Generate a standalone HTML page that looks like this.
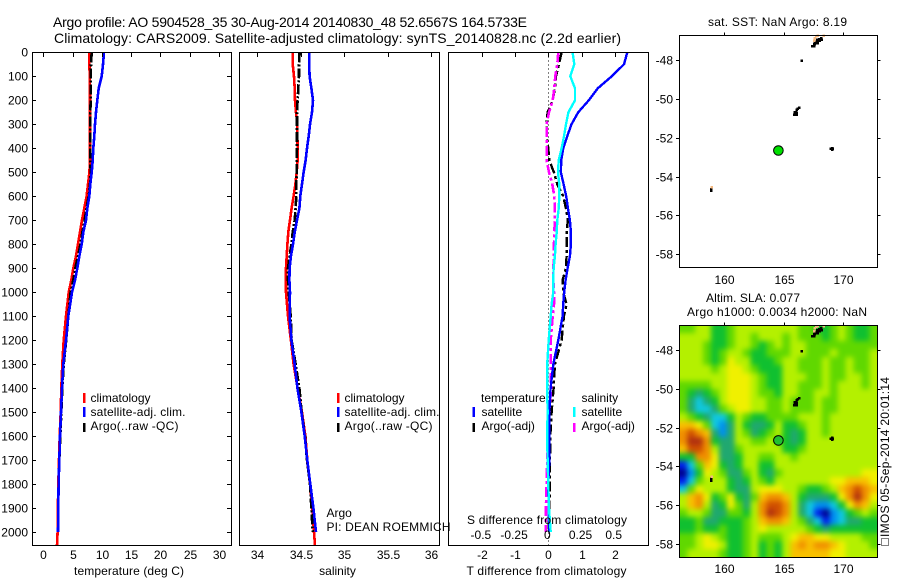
<!DOCTYPE html>
<html>
<head>
<meta charset="utf-8">
<title>Argo profile</title>
<style>
html,body{margin:0;padding:0;background:#fff;}
svg{display:block;}
text{font-family:"Liberation Sans",sans-serif;font-size:12px;fill:#000;}
.big{font-size:14px;}
</style>
</head>
<body>
<svg id="fig" width="900" height="580" viewBox="0 0 900 580" xmlns="http://www.w3.org/2000/svg">
  <defs>
    <clipPath id="clipHeat"><rect x="679.5" y="325.5" width="198" height="232"/></clipPath>
    <clipPath id="clipP1"><rect x="32.5" y="52.5" width="199" height="493"/></clipPath>
    <clipPath id="clipP2"><rect x="239.5" y="52.5" width="200" height="493"/></clipPath>
    <clipPath id="clipP3"><rect x="448.5" y="52.5" width="200" height="493"/></clipPath>
  </defs>
  <rect width="900" height="580" fill="#fff"/>

  <text class="big" x="53" y="27" textLength="474" lengthAdjust="spacing">Argo profile: AO 5904528_35 30-Aug-2014 20140830_48 52.6567S 164.5733E</text>
  <text class="big" x="54" y="43" textLength="567" lengthAdjust="spacing">Climatology: CARS2009. Satellite-adjusted climatology: synTS_20140828.nc (2.2d earlier)</text>

  <g id="p1"></g>
  <g id="p2"></g>
  <g id="p3"></g>
  <g id="m1"></g>
  <g id="m2"></g>

  <text x="129" y="575" text-anchor="middle" textLength="110">temperature (deg C)</text>
  <text x="337.5" y="575" text-anchor="middle">salinity</text>
  <text x="546.5" y="575" text-anchor="middle" textLength="160">T difference from climatology</text>
  <text x="547" y="524" text-anchor="middle" textLength="160">S difference from climatology</text>

  <g>
    <rect x="83" y="393" width="2.5" height="10" fill="#f00"/>
    <text x="90.5" y="402">climatology</text>
    <rect x="83" y="407" width="2.5" height="10" fill="#00f"/>
    <text x="90.5" y="416" textLength="95">satellite-adj. clim.</text>
    <rect x="83" y="423" width="2.5" height="9" fill="#000"/>
    <text x="90.5" y="430" textLength="88">Argo(..raw -QC)</text>
  </g>
  <g>
    <rect x="337" y="393" width="2.5" height="10" fill="#f00"/>
    <text x="344.5" y="402">climatology</text>
    <rect x="337" y="407" width="2.5" height="10" fill="#00f"/>
    <text x="344.5" y="416" textLength="95">satellite-adj. clim.</text>
    <rect x="337" y="423" width="2.5" height="9" fill="#000"/>
    <text x="344.5" y="430" textLength="88">Argo(..raw -QC)</text>
  </g>
  <g>
    <text x="481" y="402">temperature</text>
    <rect x="472.5" y="407" width="2.5" height="10" fill="#00f"/>
    <text x="481.5" y="416">satellite</text>
    <rect x="472.5" y="423" width="2.5" height="9" fill="#000"/>
    <text x="481.5" y="430">Argo(-adj)</text>
    <text x="581.5" y="402">salinity</text>
    <rect x="573" y="407" width="2.5" height="10" fill="#0ff"/>
    <text x="581.5" y="416">satellite</text>
    <rect x="573" y="423" width="2.5" height="9" fill="#f0f"/>
    <text x="581.5" y="430">Argo(-adj)</text>
  </g>

  <text x="326.5" y="517">Argo</text>
  <text x="326.5" y="531" textLength="124">PI: DEAN ROEMMICH</text>

  <text x="708" y="26" textLength="139">sat. SST: NaN Argo: 8.19</text>
  <text x="706" y="302" textLength="94">Altim. SLA: 0.077</text>
  <text x="687" y="316" textLength="180">Argo h1000: 0.0034 h2000: NaN</text>

  <rect x="881.5" y="538.5" width="7" height="7" fill="none" stroke="#000" stroke-width="1" stroke-dasharray="1 1"/>
  <text transform="translate(889,537) rotate(-90)" x="0" y="0" textLength="160">IMOS 05-Sep-2014 20:01:14</text>
</svg>
<script>
var profileDepths = [0,50,100,150,200,250,300,350,400,450,500,550,600,650,700,750,800,850,900,950,1000,1100,1200,1300,1400,1500,1600,1700,1800,1900,2000,2056];
var tempClim = [7.87,7.87,7.92,7.97,7.97,7.97,7.97,7.97,7.97,7.97,7.87,7.63,7.4,7.0,6.6,6.27,5.93,5.58,5.13,4.78,4.33,3.88,3.48,3.25,3.08,2.97,2.8,2.68,2.57,2.5,2.45,2.34];
var tempSat = [10.37,10.2,9.97,9.46,9.23,9.0,8.83,8.71,8.54,8.43,8.26,8.03,7.86,7.52,7.29,6.83,6.55,6.15,5.81,5.41,4.9,4.27,3.88,3.42,3.19,3.02,2.85,2.73,2.62,2.56,2.51];
var tempArgo = [8.26,8.14,8.09,8.09,8.09,8.03,8.03,8.03,8.03,8.03,8.09,7.97,7.75,7.4,7.06,6.67,6.33,5.93,5.47,5.13,4.67,4.27,3.91,3.48,3.25,3.08,2.91,2.73,2.62,2.56,2.51];
var salClim = [34.41,34.41,34.425,34.433,34.437,34.448,34.464,34.464,34.467,34.467,34.456,34.441,34.421,34.398,34.379,34.36,34.349,34.341,34.333,34.333,34.333,34.356,34.39,34.421,34.467,34.517,34.556,34.578,34.609,34.636,34.655,34.667];
var salSat = [34.60,34.60,34.605,34.625,34.644,34.632,34.609,34.594,34.575,34.559,34.536,34.517,34.498,34.487,34.46,34.433,34.414,34.39,34.375,34.372,34.379,34.375,34.395,34.433,34.464,34.51,34.548,34.578,34.613,34.648,34.678];
var salArgo = [34.49,34.483,34.483,34.475,34.467,34.46,34.46,34.46,34.46,34.456,34.456,34.452,34.452,34.444,34.433,34.41,34.395,34.375,34.356,34.356,34.364,34.387,34.398,34.444,34.487,34.513,34.552,34.575,34.609,34.625,34.64];

var diffDepths = [0,50,100,150,200,250,300,350,400,450,500,550,600,650,700,750,800,850,900,950,1000,1050,1100,1200,1300,1400,1500,1600,1700,1800,1900,2000];
var diffTSat = [2.38,2.28,1.91,1.49,1.22,0.90,0.70,0.57,0.45,0.39,0.38,0.46,0.54,0.59,0.65,0.68,0.68,0.65,0.58,0.52,0.48,0.45,0.43,0.30,0.15,0.07,0.03,0.03,0.03,0,0.01,0.03];
var diffTArgo = [0.40,0.32,0.23,0.20,0.13,-0.02,-0.05,-0.05,0,0.03,0.17,0.27,0.45,0.53,0.59,0.55,0.55,0.55,0.53,0.43,0.45,0.55,0.47,0.40,0.20,0.16,0.10,0.06,0.05,0.05,0.03,0.01];
var diffSSat = [0.183,0.196,0.166,0.201,0.201,0.151,0.133,0.118,0.100,0.078,0.073,0.083,0.083,0.078,0.068,0.063,0.055,0.05,0.04,0.038,0.038,0.025,0.018,0.003,-0.008,-0.008,-0.005,-0.008,-0.005,0,0.005,0.018];
var diffSArgo = [0.075,0.068,0.053,0.045,0.033,0.005,-0.013,-0.013,-0.013,-0.013,0.005,0.03,0.045,0.05,0.05,0.045,0.043,0.043,0.038,0.038,0.043,0.043,0.033,0.018,0.018,0.02,0.008,0,-0.008,-0.013,-0.018,-0.018];

var depthTicks = [0,100,200,300,400,500,600,700,800,900,1000,1100,1200,1300,1400,1500,1600,1700,1800,1900,2000];
var tempTicks = [0,5,10,15,20,25,30];
var salTicks = [34,34.5,35,35.5,36];
var tDiffTicks = [-2,-1,0,1,2];
var sDiffTicks = [-0.5,-0.25,0,0.25,0.5];
var lonTicks = [160,165,170];
var latTicks = [-48,-50,-52,-54,-56,-58];

var floatLon = 164.5733;
var floatLat = -52.6567;
var islandLon = [167.66,167.83,167.91,168.08,167.91,168.0,166.0,166.1,165.97,167.41,167.58,167.75,167.91,168.08,168.0,168.17,167.83,167.66,168.25,167.58,165.97,166.06,166.14,166.22,166.06,165.89,166.14,166.31,169.01,169.18,169.10,169.10,158.88,158.88,166.56,167.66,167.75,167.58,167.91,168.42,158.96];
var islandLat = [-47.18,-47.07,-47.02,-46.92,-47.13,-47.02,-50.73,-50.83,-50.68,-47.28,-47.18,-47.13,-47.07,-47.02,-46.92,-46.87,-46.97,-47.07,-46.97,-47.28,-50.78,-50.68,-50.57,-50.52,-50.83,-50.83,-50.73,-50.47,-52.58,-52.58,-52.53,-52.63,-54.64,-54.74,-48.05,-46.87,-46.79,-47.02,-46.76,-46.76,-54.54];
var islandTan = [0,0,0,0,0,0,0,0,0,0,0,0,0,0,0,0,0,0,0,0,0,0,0,0,0,0,0,0,0,0,0,0,0,0,0,1,1,1,1,1,1];

var heatLevelColors = ["#00008c","#0020f0","#0090f0","#10c8e0","#20a870","#10c030","#60d800","#b4f000","#f0f000","#f8c000","#f09000","#d05000","#b03010"];
var heatRows = [
[6,6,7,7,5,5,6,7,7,7,7,7,7,7,7,6,6,5,5,6,7,6,5,5,6],
[7,7,7,7,5,5,6,7,7,6,7,7,7,6,7,6,6,6,5,6,7,6,5,5,6],
[7,7,7,6,5,5,6,7,7,6,5,6,7,6,7,7,6,6,6,6,6,6,6,6,6],
[7,7,7,6,5,6,7,7,6,5,5,6,6,6,7,7,6,6,6,7,6,6,6,6,7],
[7,7,7,6,5,6,8,7,7,5,5,5,6,7,7,6,6,6,7,6,6,7,6,6,7],
[7,7,7,7,6,7,8,8,7,6,5,5,5,7,7,6,6,6,7,6,6,7,6,6,7],
[7,7,7,7,7,7,8,8,8,7,6,5,5,7,7,7,6,6,7,6,6,7,7,6,7],
[6,6,6,6,7,7,8,8,8,7,6,5,5,7,7,6,6,6,7,6,7,7,7,6,7],
[6,5,4,5,6,7,8,8,8,7,6,6,5,7,7,6,6,7,7,6,7,7,7,7,7],
[6,4,3,4,5,7,8,8,8,7,7,6,6,7,6,6,6,7,6,6,7,7,7,7,7],
[6,4,3,3,4,6,7,8,8,7,7,6,6,7,6,6,6,7,6,6,7,7,7,7,7],
[7,6,5,4,3,3,5,7,6,5,5,6,6,6,6,7,7,7,6,7,7,7,7,7,7],
[9,9,8,6,3,2,4,7,5,4,4,5,7,5,5,6,7,7,6,7,7,7,7,7,7],
[10,11,10,9,4,2,4,7,6,4,5,6,7,5,4,5,7,7,6,7,7,7,7,7,7],
[10,12,12,10,5,4,4,7,7,6,6,7,6,5,4,5,7,7,7,7,7,7,7,7,7],
[9,11,11,10,7,4,4,6,7,7,7,7,7,5,5,6,7,7,7,7,7,7,7,7,7],
[5,5,10,10,8,4,4,5,7,7,6,6,7,7,6,7,7,7,7,7,7,7,7,7,7],
[1,3,6,9,8,5,4,5,7,7,5,5,7,7,7,7,7,7,7,7,7,7,7,7,7],
[0,2,5,8,7,6,4,4,6,7,5,4,6,7,7,7,7,7,7,7,7,7,7,8,8],
[1,3,6,7,7,7,5,4,5,7,6,5,7,7,7,7,7,7,7,8,8,9,9,9,8],
[3,6,8,7,7,7,5,4,4,7,8,8,8,7,7,6,5,5,6,7,9,10,11,10,9],
[7,9,10,8,5,6,8,5,4,6,9,10,10,9,7,5,4,4,4,5,8,10,12,10,8],
[7,9,10,7,4,5,8,6,4,7,10,11,11,10,7,4,3,2,2,3,5,8,10,9,7],
[6,7,7,6,4,4,6,6,5,7,10,12,11,10,7,4,3,1,0,2,3,5,6,7,6],
[5,5,6,4,4,5,5,5,6,7,9,10,10,9,7,6,4,3,1,2,3,4,4,5,5],
[5,5,6,5,5,6,5,5,6,7,8,7,7,7,7,7,6,5,4,5,5,5,5,5,5],
[6,6,7,8,7,6,5,5,6,7,6,6,6,7,8,9,9,8,8,7,7,7,7,6,6],
[6,6,7,8,8,7,5,5,6,7,5,6,5,7,9,10,9,10,10,9,8,7,7,7,6],
[6,7,7,7,7,6,5,5,6,7,5,6,5,7,9,9,9,9,9,8,8,7,7,7,7]
];

var NS = "http://www.w3.org/2000/svg";
function add(parent, tag, attrs, txt) {
  var e = document.createElementNS(NS, tag);
  for (var k in attrs) e.setAttribute(k, attrs[k]);
  if (txt !== undefined) e.textContent = txt;
  parent.appendChild(e);
  return e;
}

function yDepth(d) { return 52.3 + d * 0.2399; }
function xTemp(t) { return 43.3 + t * 5.855; }
function xSal(s) { return 257 + (s - 34) * 87; }
function xTDiff(t) { return 548.3 + t * 33.2; }
function xSDiff(s) { return 548.3 + s * 132.8; }
function xLon(lon) { return 724.3 + (lon - 160) * 11.84; }
function yLat1(lat) { return 60 + (-48 - lat) * 19.43; }
function yLat2(lat) { return 350.3 + (-48 - lat) * 19.34; }

function drawFrame(g, x, y, w, h) {
  var el = add(g, 'rect', {x:x, y:y, width:w, height:h, fill:'none', stroke:'#000', 'stroke-width':1, 'shape-rendering':'crispEdges'});
  
  
}
function drawTick(g, x1, y1, x2, y2) {
  var el = add(g, 'line', {x1:x1, y1:y1, x2:x2, y2:y2, stroke:'#000', 'stroke-width':1, 'shape-rendering':'crispEdges'});
  
  
}
function drawLabel(g, x, y, anchor, s) {
  var el = add(g, 'text', {x:x, y:y, 'text-anchor':anchor}, s);
  
  
}
function drawSeries(g, name, values, depths, xf, color, dash, width, clip) {
  var pts = values.map(function (v, i) { return xf(v).toFixed(1) + ',' + yDepth(depths[i]).toFixed(1); }).join(' ');
  var attrs = {points:pts, fill:'none', stroke:color, 'stroke-width':width, 'shape-rendering':'crispEdges', 'clip-path':'url(#' + clip + ')'};
  if (dash) attrs['stroke-dasharray'] = dash;
  var el = add(g, 'polyline', attrs);
  
  
}

var p1 = document.getElementById('p1');
var p2 = document.getElementById('p2');
var p3 = document.getElementById('p3');
var m1 = document.getElementById('m1');
var m2 = document.getElementById('m2');

/* temperature panel */
drawSeries(p1, 'temperature-climatology-line', tempClim, profileDepths, xTemp, '#f00', null, 2.6, 'clipP1');
drawSeries(p1, 'temperature-argo-line', tempArgo, profileDepths, xTemp, '#000', '10 2 2 2', 2.6, 'clipP1');
drawSeries(p1, 'temperature-satellite-line', tempSat, profileDepths, xTemp, '#00f', null, 2.6, 'clipP1');
drawFrame(p1, 32.5, 52.5, 199, 493);
depthTicks.forEach(function (d) {
  var y = Math.round(yDepth(d)) + 0.5;
  drawTick(p1, 32.5, y, 36, y);
  drawTick(p1, 227, y, 231.5, y);
  drawLabel(p1, 28, y + 4, 'end', String(d));
});
tempTicks.forEach(function (t) {
  var x = Math.round(xTemp(t)) + 0.5;
  drawTick(p1, x, 52.5, x, 57);
  drawLabel(p1, x, 559, 'middle', String(t));
});

/* salinity panel */
drawSeries(p2, 'salinity-climatology-line', salClim, profileDepths, xSal, '#f00', null, 2.6, 'clipP2');
drawSeries(p2, 'salinity-argo-line', salArgo, profileDepths, xSal, '#000', '10 2 2 2', 2.6, 'clipP2');
drawSeries(p2, 'salinity-satellite-line', salSat, profileDepths, xSal, '#00f', null, 2.6, 'clipP2');
drawFrame(p2, 239.5, 52.5, 200, 493);
salTicks.forEach(function (s) {
  var x = Math.round(xSal(s)) + 0.5;
  drawTick(p2, x, 52.5, x, 57);
  drawLabel(p2, x, 559, 'middle', String(s));
});

/* difference panel */
var zeroLine = add(p3, 'line', {x1:548.5, y1:52.5, x2:548.5, y2:545, stroke:'#000', 'stroke-width':1, 'stroke-dasharray':'1 3'});


drawSeries(p3, 't-diff-argo-line', diffTArgo, diffDepths, xTDiff, '#000', '10 3 3 3', 2.4, 'clipP3');
drawSeries(p3, 's-diff-argo-line', diffSArgo, diffDepths, xSDiff, '#f0f', '10 3 3 3', 2.6, 'clipP3');
drawSeries(p3, 't-diff-satellite-line', diffTSat, diffDepths, xTDiff, '#00f', null, 2.4, 'clipP3');
drawSeries(p3, 's-diff-satellite-line', diffSSat, diffDepths, xSDiff, '#0ff', null, 2.4, 'clipP3');
drawFrame(p3, 448.5, 52.5, 200, 493);
tDiffTicks.forEach(function (t) {
  var x = Math.round(xTDiff(t)) + 0.5;
  drawTick(p3, x, 52.5, x, 57);
  drawLabel(p3, x, 559, 'middle', String(t));
});
sDiffTicks.forEach(function (s) {
  drawLabel(p3, xSDiff(s) - 1, 539, 'middle', String(s));
});

/* heatmap cells */
var heatClip = add(m2, 'g', {'clip-path':'url(#clipHeat)'});


var heatGroup = add(heatClip, 'g', {style:'filter:blur(2.6px)'});


var heatLonStart = 156.2, heatLonEnd = 172.92, heatLatStart = -46.69, heatLatEnd = -58.69;
var nRows = heatRows.length, nCols = heatRows[0].length;
var dLon = (heatLonEnd - heatLonStart) / nCols, dLat = (heatLatEnd - heatLatStart) / nRows;
heatRows.forEach(function (row, r) {
  row.forEach(function (v, c) {
    var x0 = xLon(heatLonStart + c * dLon), x1 = xLon(heatLonStart + (c + 1) * dLon);
    var y0 = yLat2(heatLatStart + r * dLat), y1 = yLat2(heatLatStart + (r + 1) * dLat);
    if (c === 0) x0 -= 12;
    if (c === nCols - 1) x1 += 12;
    if (r === 0) y0 -= 12;
    if (r === nRows - 1) y1 += 12;
    var cell = add(heatGroup, 'rect', {x:x0.toFixed(2), y:y0.toFixed(2), width:(x1 - x0 + 0.6).toFixed(2), height:(y1 - y0 + 0.6).toFixed(2), fill:heatLevelColors[v]});
    
    
  });
});

/* map furniture */
function drawMap(g, top, h, yLat, fillColor) {
  islandLon.forEach(function (lon, i) {
    var dot = add(g, 'rect', {x:(xLon(lon) - 1.25).toFixed(1), y:(yLat(islandLat[i]) - 1.25).toFixed(1), width:2.5, height:2.5, fill:islandTan[i] ? '#f4b880' : '#000', 'shape-rendering':'crispEdges'});
    
    
  });
  var marker = add(g, 'circle', {cx:xLon(floatLon).toFixed(1), cy:yLat(floatLat).toFixed(1), r:4.8, fill:fillColor, stroke:'#000', 'stroke-width':1});
  
  
  drawFrame(g, 679.5, top, 198, h);
  lonTicks.forEach(function (lon) {
    var x = Math.round(xLon(lon)) + 0.5;
    drawTick(g, x, top - 3, x, top);
    drawLabel(g, x, top + h + (top < 100 ? 16.5 : 15.5), 'middle', String(lon));
  });
  latTicks.forEach(function (lat) {
    var y = Math.round(yLat(lat)) + 0.5;
    drawTick(g, 676, y, 679.5, y);
    drawTick(g, 877.5, y, 880.5, y);
    drawLabel(g, 673, y + 4, 'end', String(lat));
  });
}
drawMap(m1, 35.5, 232, yLat1, '#00e000');
drawMap(m2, 325.5, 232, yLat2, '#20c030');
</script>
</body>
</html>
